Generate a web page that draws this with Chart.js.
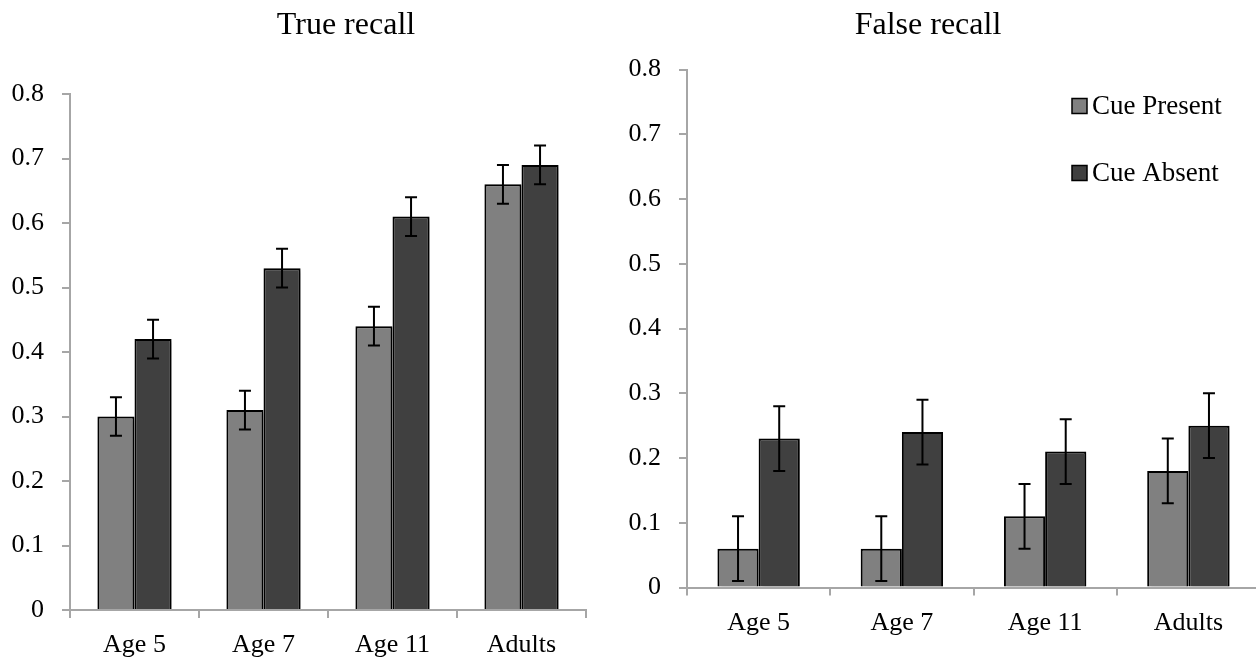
<!DOCTYPE html>
<html>
<head>
<meta charset="utf-8">
<script src="https://cdn.jsdelivr.net/npm/chart.js@4.4.1/dist/chart.umd.min.js"></script>
<style>
  html, body { margin: 0; padding: 0; background: #fff; width: 1256px; height: 660px; overflow: hidden; position: relative; }
  canvas { position: absolute; top: 0; }
  #c1 { left: 0px; }
  #c2 { left: 596px; }
</style>
</head>
<body>
<canvas id="c1" width="692" height="660"></canvas>
<canvas id="c2" width="668" height="660"></canvas>
<script>
// ---- data ----
const categories = ['Age 5', 'Age 7', 'Age 11', 'Adults'];
const seriesNames = ['Cue Present', 'Cue Absent'];
const yTickLabels = ['0', '0.1', '0.2', '0.3', '0.4', '0.5', '0.6', '0.7', '0.8'];

const trueCuePresent = [0.30, 0.31, 0.44, 0.66];
const trueCueAbsent  = [0.42, 0.53, 0.61, 0.69];
const trueErrPresent = [0.03, 0.03, 0.03, 0.03];
const trueErrAbsent  = [0.03, 0.03, 0.03, 0.03];

const falseCuePresent = [0.06, 0.06, 0.11, 0.18];
const falseCueAbsent  = [0.23, 0.24, 0.21, 0.25];
const falseErrPresent = [0.05, 0.05, 0.05, 0.05];
const falseErrAbsent  = [0.05, 0.05, 0.05, 0.05];

// ---- styles ----
const FONT = '"Liberation Serif", "Times New Roman", serif';
const colPresent = '#808080';
const colAbsent = '#404040';
const axisGray = '#a6a6a6';

const shadowPlugin = {
  id: 'barShadow',
  beforeDatasetsDraw(chart) {
    const ctx = chart.ctx;
    ctx.save();
    ctx.shadowColor = 'rgba(0,0,0,0.30)';
    ctx.shadowBlur = 4;
    ctx.shadowOffsetX = 2;
    ctx.shadowOffsetY = 2;
  },
  afterDatasetsDraw(chart) {
    chart.ctx.restore();
  }
};

const errorBarPlugin = {
  id: 'errorBars',
  afterDatasetsDraw(chart) {
    const ctx = chart.ctx;
    const y = chart.scales.y;
    ctx.save();
    ctx.strokeStyle = '#000';
    ctx.lineWidth = 2;
    chart.data.datasets.forEach((ds, di) => {
      const meta = chart.getDatasetMeta(di);
      meta.data.forEach((bar, i) => {
        const v = ds.data[i], e = ds.errors[i];
        const yt = y.getPixelForValue(v + e);
        const yb = y.getPixelForValue(v - e);
        const x = bar.x;
        const cap = 6;
        ctx.beginPath();
        ctx.moveTo(x, yt); ctx.lineTo(x, yb);
        ctx.moveTo(x - cap, yt); ctx.lineTo(x + cap, yt);
        ctx.moveTo(x - cap, yb); ctx.lineTo(x + cap, yb);
        ctx.stroke();
      });
    });
    ctx.restore();
  }
};

const legendPlugin = {
  id: 'customLegend',
  afterDraw(chart, args, opts) {
    if (!opts.show) return;
    const ctx = chart.ctx;
    const area = chart.chartArea;
    const x0 = area.right - 188;
    let y0 = area.top + 29;
    ctx.save();
    chart.data.datasets.forEach((ds) => {
      ctx.fillStyle = ds.backgroundColor;
      ctx.fillRect(x0, y0, 15, 15);
      ctx.strokeStyle = '#000';
      ctx.lineWidth = 1.5;
      ctx.strokeRect(x0, y0, 15, 15);
      ctx.fillStyle = '#000';
      ctx.font = '27px ' + FONT;
      ctx.textBaseline = 'middle';
      ctx.textAlign = 'left';
      ctx.fillText(ds.label, x0 + 20, y0 + 8);
      y0 += 67;
    });
    ctx.restore();
  }
};

function makeChart(id, title, present, absent, errP, errA, cfg) {
  return new Chart(document.getElementById(id), {
    type: 'bar',
    data: {
      labels: categories,
      datasets: [
        { label: seriesNames[0], data: present, errors: errP, backgroundColor: colPresent,
          borderColor: '#000', borderWidth: 2, barPercentage: 1.0, categoryPercentage: 0.575 },
        { label: seriesNames[1], data: absent, errors: errA, backgroundColor: colAbsent,
          borderColor: '#000', borderWidth: 2, barPercentage: 1.0, categoryPercentage: 0.575 }
      ]
    },
    options: {
      responsive: false,
      animation: false,
      devicePixelRatio: 1,
      layout: { padding: { left: 0, right: cfg.padRight, top: 0, bottom: 0 } },
      plugins: {
        legend: { display: false },
        tooltip: { enabled: false },
        title: {
          display: true, text: title, color: '#000',
          font: { family: FONT, size: 32, weight: 'normal' },
          padding: { top: 6, bottom: cfg.titleBottom }
        },
        customLegend: { show: cfg.legend }
      },
      scales: {
        x: {
          grid: { display: true, drawOnChartArea: false, drawTicks: true, tickLength: 8,
                  color: axisGray, lineWidth: 2, offset: true },
          border: { display: true, color: axisGray, width: 2 },
          ticks: { color: '#000', font: { family: FONT, size: 26 }, padding: 12 },
          afterFit(s) { s.height = cfg.xHeight; }
        },
        y: {
          min: 0, max: 0.8,
          grid: { display: true, drawOnChartArea: false, drawTicks: true, tickLength: 8,
                  color: axisGray, lineWidth: 2 },
          border: { display: true, color: axisGray, width: 2 },
          ticks: { stepSize: 0.1, color: '#000', font: { family: FONT, size: 26 }, padding: 18,
                   callback: (v, i) => yTickLabels[i] },
          afterFit(s) { s.width = cfg.yWidth; }
        },
        spacer: {
          type: 'linear', position: 'right', display: cfg.spacer > 0,
          grid: { display: false }, border: { display: false },
          ticks: { display: false },
          afterFit(s) { s.width = cfg.spacer; }
        }
      }
    },
    plugins: [shadowPlugin, errorBarPlugin, legendPlugin]
  });
}

makeChart('c1', 'True recall', trueCuePresent, trueCueAbsent, trueErrPresent, trueErrAbsent,
  { padRight: 0, spacer: 106, titleBottom: 49.6, xHeight: 50, yWidth: 70, legend: false });
makeChart('c2', 'False recall', falseCuePresent, falseCueAbsent, falseErrPresent, falseErrAbsent,
  { padRight: 4, spacer: 0, titleBottom: 25.1, xHeight: 72.5, yWidth: 91, legend: true });
</script>
</body>
</html>
